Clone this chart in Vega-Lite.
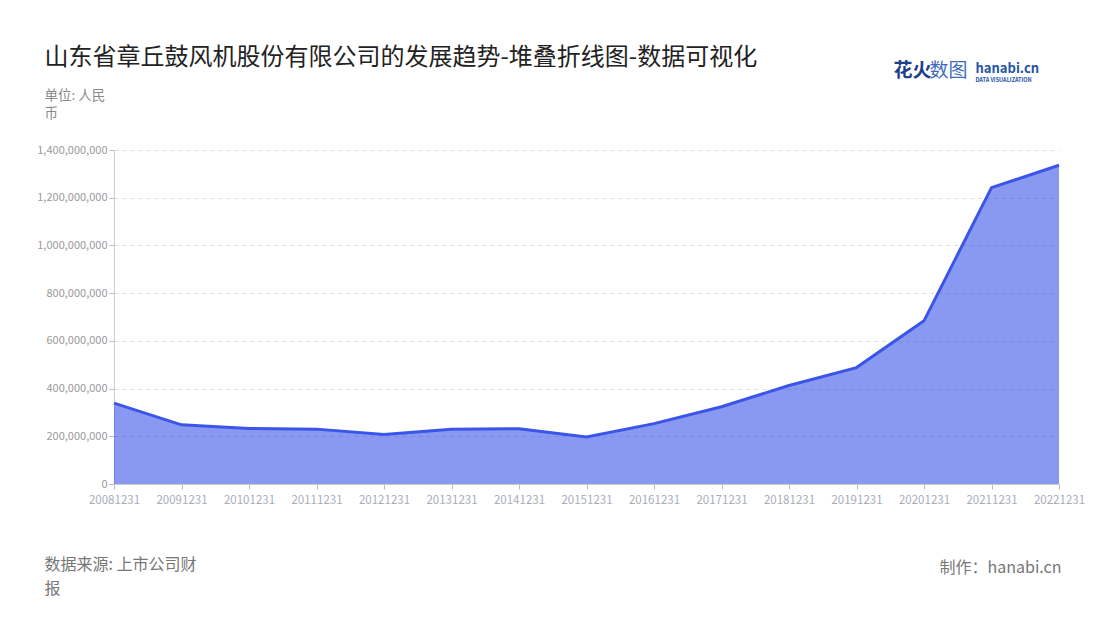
{
  "$schema": "https://vega.github.io/schema/vega-lite/v6.json",
  "description": "山东省章丘鼓风机股份有限公司的发展趋势 area chart",
  "width": 945,
  "height": 334,
  "autosize": {"type": "none"},
  "padding": {"left": 114, "top": 150, "right": 41, "bottom": 136},
  "background": "white",
  "config": {
    "font": "Noto Sans CJK SC",
    "view": {"stroke": null}
  },
  "data": {
    "values": [
      {"date": "20081231", "value": 339000000},
      {"date": "20091231", "value": 248000000},
      {"date": "20101231", "value": 233000000},
      {"date": "20111231", "value": 230000000},
      {"date": "20121231", "value": 208000000},
      {"date": "20131231", "value": 229000000},
      {"date": "20141231", "value": 232000000},
      {"date": "20151231", "value": 197000000},
      {"date": "20161231", "value": 253000000},
      {"date": "20171231", "value": 324000000},
      {"date": "20181231", "value": 413000000},
      {"date": "20191231", "value": 488000000},
      {"date": "20201231", "value": 684000000},
      {"date": "20211231", "value": 1242000000},
      {"date": "20221231", "value": 1336000000}
    ]
  },
  "layer": [
    {
      "mark": {
        "type": "area",
        "color": "#3a55e8",
        "fillOpacity": 0.6,
        "line": {"color": "#3a55e8", "strokeWidth": 3}
      },
      "encoding": {
        "x": {
          "field": "date",
          "type": "ordinal",
          "sort": null,
          "scale": {"type": "point", "padding": 0},
          "axis": {
            "orient": "bottom",
            "labelAngle": 0,
            "labelColor": "#a9acb9",
            "labelFontSize": 11.5,
            "labelPadding": 5,
            "tickColor": "#bbbbbb",
            "tickSize": 5,
            "domainColor": "#cccccc",
            "grid": false,
            "title": ["数据来源: 上市公司财", "报"],
            "titleX": -70,
            "titleY": 72,
            "titleAlign": "left",
            "titleAngle": 0,
            "titleBaseline": "top",
            "titleFontSize": 16,
            "titleFontWeight": "normal",
            "titleColor": "#777777",
            "titleLineHeight": 24
          }
        },
        "y": {
          "field": "value",
          "type": "quantitative",
          "scale": {"domain": [0, 1400000000], "nice": false},
          "axis": {
            "orient": "left",
            "values": [0, 200000000, 400000000, 600000000, 800000000, 1000000000, 1200000000, 1400000000],
            "format": ",d",
            "labelColor": "#9a9a9a",
            "labelFontSize": 11,
            "labelPadding": 2,
            "tickColor": "#bbbbbb",
            "tickSize": 5,
            "domainColor": "#cccccc",
            "gridColor": "#dddddd",
            "gridDash": [4, 4],
            "title": ["单位: 人民", "币"],
            "titleX": -70,
            "titleY": -62,
            "titleAlign": "left",
            "titleAngle": 0,
            "titleBaseline": "top",
            "titleFontSize": 13.5,
            "titleFontWeight": "normal",
            "titleColor": "#8a8a8a",
            "titleLineHeight": 18
          }
        }
      }
    },
    {
      "mark": {"type": "line", "opacity": 0},
      "encoding": {
        "x": {
          "field": "date",
          "type": "ordinal",
          "axis": {
            "orient": "top",
            "labels": false, "ticks": false, "domain": false, "grid": false,
            "title": "山东省章丘鼓风机股份有限公司的发展趋势-堆叠折线图-数据可视化",
            "titleX": -70,
            "titleY": -93,
            "titleAlign": "left",
            "titleBaseline": "middle",
            "titleFontSize": 24,
            "titleFontWeight": "normal",
            "titleColor": "#222222"
          }
        },
        "y": {
          "field": "value",
          "type": "quantitative",
          "axis": {
            "orient": "right",
            "labels": false, "ticks": false, "domain": false, "grid": false,
            "title": "制作：hanabi.cn",
            "titleX": 2,
            "titleY": 417,
            "titleAngle": 0,
            "titleAlign": "right",
            "titleBaseline": "middle",
            "titleFontSize": 16,
            "titleFontWeight": "normal",
            "titleColor": "#777777"
          }
        }
      }
    },
    {
      "mark": {"type": "line", "opacity": 0},
      "encoding": {
        "x": {
          "field": "date",
          "type": "ordinal",
          "axis": {
            "orient": "top",
            "labels": false, "ticks": false, "domain": false, "grid": false,
            "title": "花火",
            "titleX": 779,
            "titleY": -80,
            "titleAlign": "left",
            "titleBaseline": "middle",
            "titleFontSize": 19,
            "titleFontWeight": "bold",
            "titleColor": "#1d3f87"
          }
        },
        "y": {
          "field": "value",
          "type": "quantitative",
          "axis": {
            "orient": "right",
            "labels": false, "ticks": false, "domain": false, "grid": false,
            "title": "数图",
            "titleX": -130,
            "titleY": -80,
            "titleAngle": 0,
            "titleAlign": "left",
            "titleBaseline": "middle",
            "titleFontSize": 19,
            "titleFontWeight": "normal",
            "titleColor": "#3d6bc0"
          }
        }
      }
    },
    {
      "mark": {"type": "line", "opacity": 0},
      "encoding": {
        "x": {
          "field": "date",
          "type": "ordinal",
          "axis": {
            "orient": "top",
            "labels": false, "ticks": false, "domain": false, "grid": false,
            "title": "hanabi.cn",
            "titleX": 861,
            "titleY": -82,
            "titleAlign": "left",
            "titleBaseline": "middle",
            "titleFontSize": 13,
            "titleFontWeight": "bold",
            "titleColor": "#2554a8"
          }
        },
        "y": {
          "field": "value",
          "type": "quantitative",
          "axis": {
            "orient": "right",
            "labels": false, "ticks": false, "domain": false, "grid": false,
            "title": "DATA VISUALIZATION",
            "titleX": -84,
            "titleY": -71,
            "titleAngle": 0,
            "titleAlign": "left",
            "titleBaseline": "middle",
            "titleFontSize": 5.5,
            "titleFontWeight": "bold",
            "titleColor": "#2554a8"
          }
        }
      }
    }
  ],
  "resolve": {
    "scale": {"x": "independent", "y": "independent"},
    "axis": {"x": "independent", "y": "independent"}
  }
}
